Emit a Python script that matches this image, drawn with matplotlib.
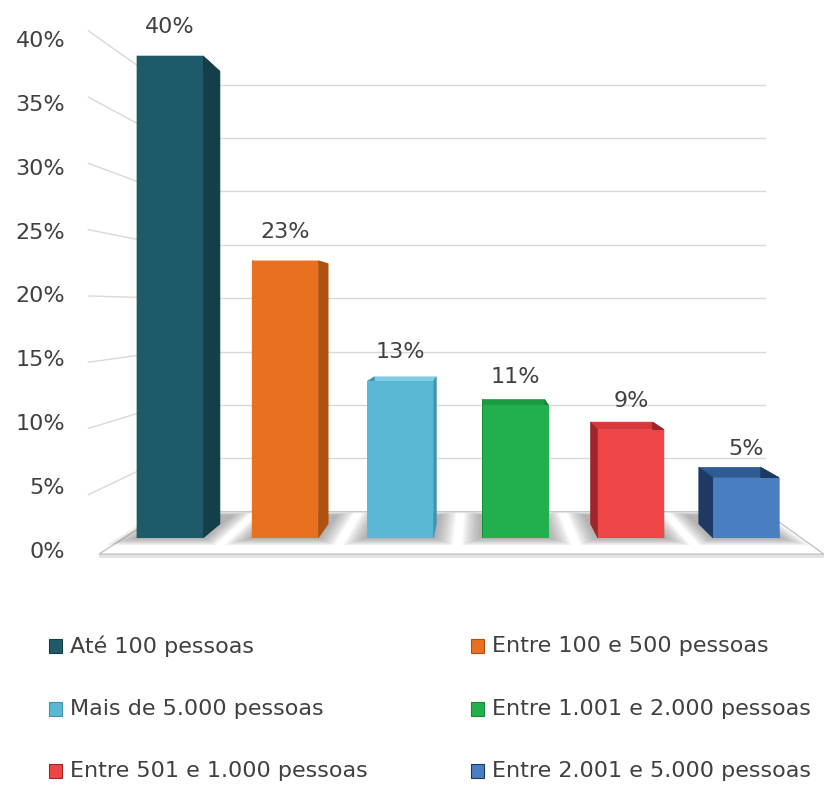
import matplotlib.pyplot as plt
from matplotlib.patches import Polygon, Rectangle

plt.rcParams['font.family'] = ['DejaVu Sans']

# data
categories = ['Até 100 pessoas', 'Entre 100 e 500 pessoas', 'Mais de 5.000 pessoas',
              'Entre 1.001 e 2.000 pessoas', 'Entre 501 e 1.000 pessoas',
              'Entre 2.001 e 5.000 pessoas']
values = [40, 23, 13, 11, 9, 5]
front_colors = ['#1F5A6B', '#E8701E', '#5BB8D4', '#22B04E', '#EE4546', '#4A7EC0']
side_colors = ['#143E4A', '#B0520F', '#3F95B0', '#178A3A', '#9E2528', '#1E3A62']
top_colors = ['#2A6C7E', '#F08A3E', '#7FCBE2', '#1C9A43', '#D9373A', '#2E5B93']
ticks = [0, 5, 10, 15, 20, 25, 30, 35, 40]
tick_labels = ['%d%%' % t for t in ticks]

# fake 3d view (one point perspective, in data units)
VP = (2.69, 19.1)
BAR_DEPTH = 0.061
WALL_BACK = 0.114
WALL_FRONT = -0.10
FLOOR_FRONT = -0.07
LABEL_DEPTH = -0.059
WALL_LEFT = -0.40
WALL_RIGHT = 5.48
WIDTH = 0.573
GRID = '#D9D9D9'
TEXT = '#404040'
FS = 16


def proj(x, y, g):
    """Moves a point of the front plane g of the way to the vanishing point"""
    return (x + g * (VP[0] - x), y + g * (VP[1] - y))


fig = plt.figure(figsize=(8.26, 7.85), dpi=100)
ax = fig.add_axes([0, 0, 1, 1])
ax.set_xlim(-1.476, 5.694)
ax.set_ylim(-20.5, 44.65)
ax.axis('off')

# walls
for t, lab in zip(ticks, tick_labels):
    a = proj(WALL_LEFT, t, WALL_BACK)
    b = proj(WALL_RIGHT, t, WALL_BACK)
    if t > 0:
        ax.plot([a[0], b[0]], [a[1], b[1]], color=GRID, lw=1, zorder=1)
        c = proj(WALL_LEFT, t, WALL_FRONT)
        ax.plot([c[0], a[0]], [c[1], a[1]], color=GRID, lw=1, zorder=1)
    lx, ly = proj(WALL_LEFT, t, LABEL_DEPTH)
    ax.text(-0.911, ly, lab, ha='right', va='center', fontsize=FS, color=TEXT)

# floor
fl = proj(WALL_LEFT, 0, FLOOR_FRONT)
fr = proj(WALL_RIGHT, 0, FLOOR_FRONT)
br = proj(WALL_RIGHT, 0, WALL_BACK)
bl = proj(WALL_LEFT, 0, WALL_BACK)
ax.add_patch(Polygon([(fl[0], fl[1] - 0.35), (fr[0], fr[1] - 0.35), fr, fl],
                     closed=True, fc='#E4E4E4', ec='none', zorder=2))
ax.add_patch(Polygon([fl, fr, br, bl], closed=True, fc='white', ec='#C4C4C4',
                     lw=1, zorder=2))

# soft shadows of the bars on the floor
for i in range(len(values)):
    for k in range(10):
        pad = 0.03 + 0.016 * k
        x0, x1 = i - WIDTH / 2 - pad, i + WIDTH / 2 + pad
        g0, g1 = -0.004 - 0.003 * k, WALL_BACK - 0.012 + 0.001 * k
        pts = [proj(x0, 0, g0), proj(x1, 0, g0), proj(x1, 0, g1), proj(x0, 0, g1)]
        ax.add_patch(Polygon(pts, closed=True, fc='#707070', ec='none',
                             alpha=0.065, zorder=3))

# bars: top first, then the sides cover what should be hidden, then the front
for i, v in enumerate(values):
    xl, xr = i - WIDTH / 2, i + WIDTH / 2
    top = [(xl, v), (xr, v), proj(xr, v, BAR_DEPTH), proj(xl, v, BAR_DEPTH)]
    left = [(xl, 0), (xl, v), proj(xl, v, BAR_DEPTH), proj(xl, 0, BAR_DEPTH)]
    right = [(xr, 0), (xr, v), proj(xr, v, BAR_DEPTH), proj(xr, 0, BAR_DEPTH)]
    for face, col in ((top, top_colors[i]), (left, side_colors[i]),
                      (right, side_colors[i])):
        ax.add_patch(Polygon(face, closed=True, fc=col, ec=col, lw=0.5, zorder=4))
ax.bar(range(len(values)), values, width=WIDTH, color=front_colors, zorder=5)

for i, v in enumerate(values):
    ax.text(i, v + 2.4, '%d%%' % v, ha='center', va='center', fontsize=FS,
            color=TEXT, zorder=6)

# legend, filled row by row
rows_y = [646, 709, 771]
cols_x = [49, 471]
for k, name in enumerate(categories):
    px = cols_x[k % 2]
    py = rows_y[k // 2]
    fig.patches.append(Rectangle((px / 826, 1 - (py + 7) / 785), 13 / 826, 14 / 785,
                                 transform=fig.transFigure, fc=front_colors[k],
                                 ec=side_colors[k], lw=0.8))
    fig.text((px + 21) / 826, 1 - py / 785, name, ha='left', va='center',
             fontsize=FS, color=TEXT)

fig.savefig('out.png', dpi=100)
